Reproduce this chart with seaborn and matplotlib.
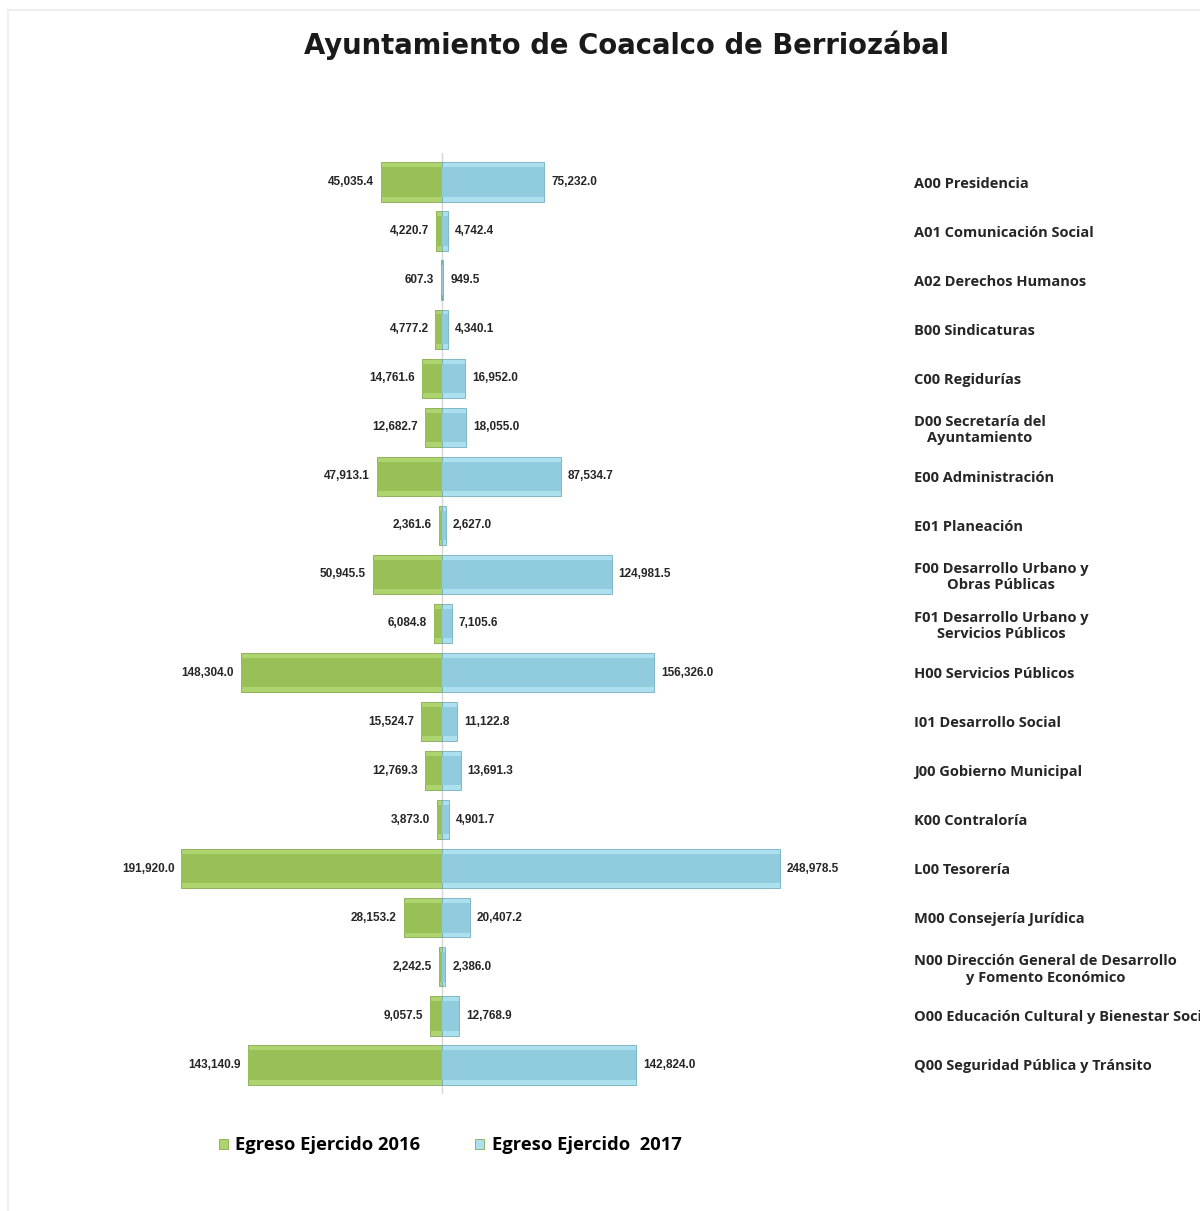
import pandas as pd
import numpy as np
import matplotlib.pyplot as plt
import seaborn as sns

# --- data (miles de pesos) ---
areas = [
    'A00 Presidencia',
    'A01 Comunicación Social',
    'A02 Derechos Humanos',
    'B00 Sindicaturas',
    'C00 Regidurías',
    'D00 Secretaría del\nAyuntamiento',
    'E00 Administración',
    'E01 Planeación',
    'F00 Desarrollo Urbano y\nObras Públicas',
    'F01 Desarrollo Urbano y\nServicios Públicos',
    'H00 Servicios Públicos',
    'I01 Desarrollo Social',
    'J00 Gobierno Municipal',
    'K00 Contraloría',
    'L00 Tesorería',
    'M00 Consejería Jurídica',
    'N00 Dirección General de Desarrollo\ny Fomento Económico',
    'O00 Educación Cultural y Bienestar Social',
    'Q00 Seguridad Pública y Tránsito',
]
egreso_2016 = [45035.4, 4220.7, 607.3, 4777.2, 14761.6, 12682.7, 47913.1, 2361.6,
               50945.5, 6084.8, 148304.0, 15524.7, 12769.3, 3873.0, 191920.0,
               28153.2, 2242.5, 9057.5, 143140.9]
egreso_2017 = [75232.0, 4742.4, 949.5, 4340.1, 16952.0, 18055.0, 87534.7, 2627.0,
               124981.5, 7105.6, 156326.0, 11122.8, 13691.3, 4901.7, 248978.5,
               20407.2, 2386.0, 12768.9, 142824.0]
series = ['Egreso Ejercido 2016', 'Egreso Ejercido  2017']

# 2016 goes to the left, so store it negative
df = pd.DataFrame({
    'area': areas * 2,
    'valor': [-v for v in egreso_2016] + egreso_2017,
    'serie': [series[0]] * len(areas) + [series[1]] * len(areas),
})

outer = {series[0]: '#add46e', series[1]: '#ace0ef'}
inner = {series[0]: '#98c056', series[1]: '#90cbde'}

fig = plt.figure(figsize=(12, 12.11), dpi=100)
ax = fig.add_axes([0.0854, 0.0963, 0.645, 0.7777])

sns.barplot(data=df, y='area', x='valor', hue='serie', hue_order=series,
            dodge=False, orient='h', palette=outer, width=0.8, saturation=1,
            edgecolor='#86a84c', linewidth=0.6, ax=ax)
# inner face for a flat bevel look
sns.barplot(data=df, y='area', x='valor', hue='serie', hue_order=series,
            dodge=False, orient='h', palette=inner, width=0.6, saturation=1,
            linewidth=0, legend=False, ax=ax)
for bar in ax.containers[1]:
    bar.set_edgecolor('#74aec0')

ax.axvline(0, color='#d6d6d6', lw=1, zorder=0)

# value labels
lab16 = [f'{v:,.1f}' for v in egreso_2016]
lab17 = [f'{v:,.1f}' for v in egreso_2017]
for cont, labs in zip(ax.containers[:2], [lab16, lab17]):
    ax.bar_label(cont, labels=labs, padding=5, fontsize=8.5, fontweight='bold',
                 family='Liberation Sans', color='#262626')

ax.set_xlim(-250000, 320000)
ax.set_ylim(len(areas) - 0.4, -0.6)
ax.set_xlabel('')
ax.set_ylabel('')
ax.set_xticks([])
ax.yaxis.tick_right()
ax.tick_params(axis='y', length=0, pad=27)
for lbl in ax.get_yticklabels():
    lbl.set_family('Open Sans')
    lbl.set_fontweight('bold')
    lbl.set_fontsize(10.5)
    lbl.set_color('#262626')
    lbl.set_multialignment('center')
for s in ax.spines.values():
    s.set_visible(False)

sns.move_legend(ax, loc='center', bbox_to_anchor=(0.449, -0.054), ncol=2,
                frameon=False, title=None, handlelength=0.5, handleheight=0.5,
                columnspacing=3.0, handletextpad=0.4,
                prop={'family': 'Open Sans', 'weight': 'bold', 'size': 13.2})

fig.text(0.5217, 1 - 45 / 1211, 'Ayuntamiento de Coacalco de Berriozábal',
         ha='center', va='center', fontsize=19.8, fontweight='bold',
         family='DejaVu Sans', color='#1a1a1a')

# faint frame around the picture
fig.add_artist(plt.Rectangle((0.007, -0.01), 1.1, 1 - 0.007 + 0.01 - 0.001,
                             transform=fig.transFigure, fill=False,
                             edgecolor='#eeeeee', lw=1.5))

fig.savefig('out.png', dpi=100)
